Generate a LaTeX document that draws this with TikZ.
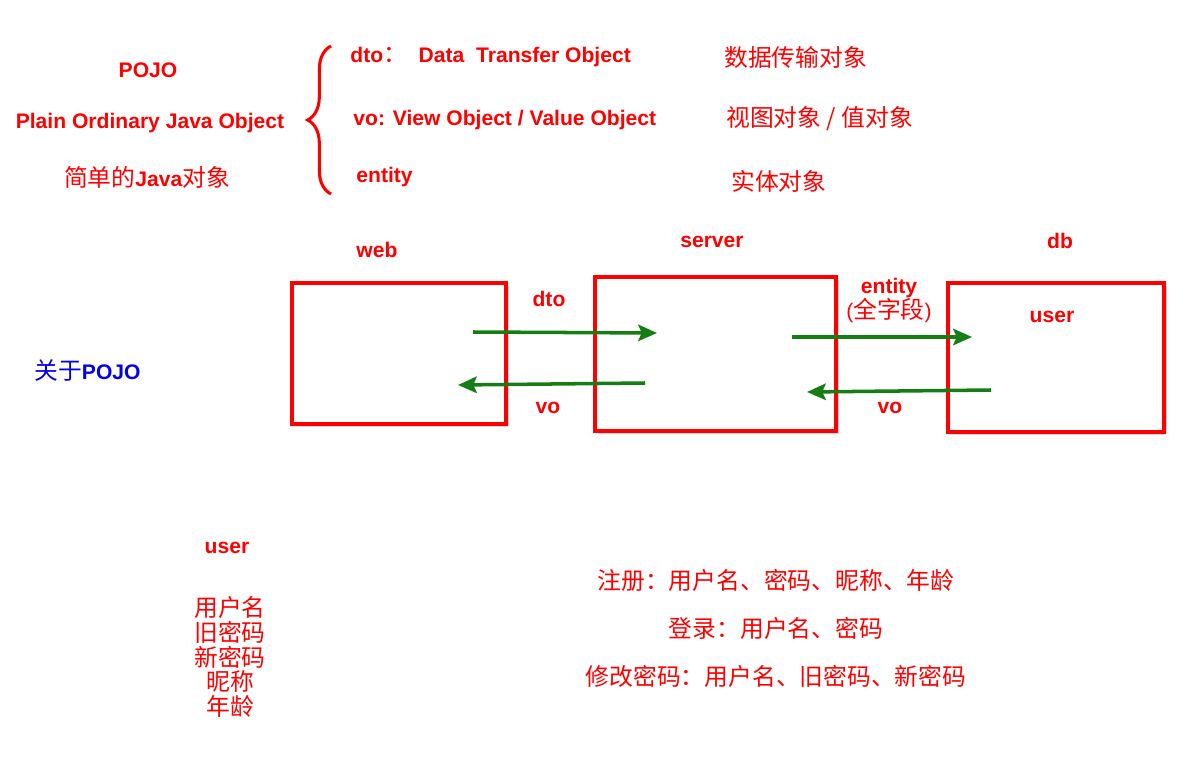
\documentclass[tikz,border=0pt]{standalone}
\usepackage{fontspec}
\setmainfont{Liberation Sans}
\newfontfamily\cjk{Noto Sans CJK SC}
\usetikzlibrary{positioning, arrows.meta, decorations.pathreplacing, shadows}

\definecolor{arrgreen}{RGB}{20,125,20}
\definecolor{aboutblue}{RGB}{0,0,235}

\newcommand{\zh}[1]{{\cjk\fontsize{20.3}{24}\selectfont\mdseries #1}}

\begin{document}
\begin{tikzpicture}[
    x=0.03cm, y=-0.03cm,
    lbl/.style={font=\fontsize{18}{21}\selectfont\bfseries, text=red, inner sep=1pt},
    zhlbl/.style={font=\cjk\fontsize{20.3}{24}\selectfont, text=red, inner sep=1pt},
    tier/.style={draw=red, line width=3.2pt, fill=white, drop shadow={opacity=0.3, shadow xshift=2.5pt, shadow yshift=-2.5pt}},
    arr/.style={-{Stealth[length=16pt, width=14pt, inset=3pt]}, line width=3pt, arrgreen},
]
\useasboundingbox (0,0) rectangle (1203,769);

% POJO meaning
\node[lbl] (pojo) at (148,70) {POJO};
\node[lbl] (pojofull) at (150,123) {Plain Ordinary Java Object};
\node[lbl] (pojozh) at (147,177) {\zh{简单的}Java\zh{对象}};

% brace
\coordinate (bracetop) at (331,46);
\coordinate (bracebot) at (331,194);
\draw[red, line width=2.6pt, decorate, decoration={brace, amplitude=0.7cm}] (bracebot) -- (bracetop);

% kinds of objects
\node[lbl, anchor=west] (dto) at (349,57) {dto\zh{：}\ \ Data\ \ Transfer Object};
\node[lbl, anchor=west] (vo) at (352,120) {vo: View Object / Value Object};
\node[lbl, anchor=west] (entity) at (355,177) {entity};
\node[zhlbl, anchor=west] (dtozh) at (723,57) {数据传输对象};
\node[zhlbl, anchor=west] (vozh) at (725,119) {视图对象 / 值对象};
\node[zhlbl, anchor=west] (entityzh) at (730,181) {实体对象};

% tiers
\node[tier, minimum width=6.42cm, minimum height=4.23cm] (web) at (399,353.5) {};
\node[tier, minimum width=7.23cm, minimum height=4.62cm] (server) at (715.5,354) {};
\node[tier, minimum width=6.48cm, minimum height=4.47cm] (db) at (1056,357.5) {};
\node[lbl] (webtitle) at (377,250) {web};
\node[lbl] (servertitle) at (712,242) {server};
\node[lbl] (dbtitle) at (1060,241) {db};
\node[lbl] (dbuser) at (1052,317) {user};

% flows
\coordinate (dtofrom) at (473,332);
\coordinate (dtoto) at (657,333);
\coordinate (vofrom) at (645,383);
\coordinate (voto) at (458,385);
\coordinate (entfrom) at (792,337);
\coordinate (entto) at (972,337);
\coordinate (dbvofrom) at (991,390);
\coordinate (dbvoto) at (807,392);
\draw[arr] (dtofrom) -- (dtoto);
\draw[arr] (vofrom) -- (voto);
\draw[arr] (entfrom) -- (entto);
\draw[arr] (dbvofrom) -- (dbvoto);
\node[lbl] (dtolbl) at (549,299) {dto};
\node[lbl] (volbl) at (548,408) {vo};
\node[lbl] (entlbl) at (889,288) {entity};
\node[lbl] (entfull) at (889,311) {\mdseries(\zh{全字段})};
\node[lbl] (dbvolbl) at (890,408) {vo};

% about
\node[lbl, text=aboutblue, anchor=west] (about) at (33,370) {\zh{关于}POJO};

% user fields
\node[lbl] (usertitle) at (227,548) {user};
\node[zhlbl, align=center, font=\cjk\fontsize{20.3}{21}\selectfont] (userfields) at (230,657) {用户名\\旧密码\\新密码\\昵称\\年龄};

% use cases
\node[zhlbl] (register) at (776,580) {注册：用户名、密码、昵称、年龄};
\node[zhlbl] (login) at (776,628) {登录：用户名、密码};
\node[zhlbl] (changepw) at (776,676) {修改密码：用户名、旧密码、新密码};

\end{tikzpicture}
\end{document}
